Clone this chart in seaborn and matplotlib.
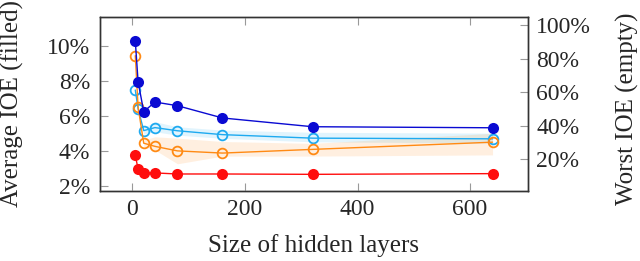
'''Average vs worst IOE over hidden layer size'''
import numpy as np
import pandas as pd
import seaborn as sns
import matplotlib.pyplot as plt
from matplotlib.ticker import FuncFormatter

sizes = [5, 10, 20, 40, 80, 160, 320, 640]

# average IOE (filled markers, left axis), in %
avg_blue = [10.27, 7.94, 6.23, 6.78, 6.57, 5.87, 5.37, 5.31]
avg_red = [3.74, 2.95, 2.74, 2.73, 2.67, 2.67, 2.65, 2.69]

# worst IOE (empty markers, right axis), in %
worst_cyan = [61.2, 50.0, 37.0, 38.8, 36.9, 34.6, 32.5, 32.1]
worst_orange = [81.7, 51.0, 29.5, 27.6, 24.9, 23.6, 25.8, 30.1]

# shaded spread around the worst IOE curves
band_sizes = [20, 40, 80, 160, 320, 640]
cyan_lo = [35.0, 36.3, 34.3, 32.4, 30.3, 29.6]
cyan_hi = [39.0, 42.3, 39.3, 37.3, 36.0, 35.5]
orange_lo = [27.5, 25.4, 17.2, 21.8, 21.8, 22.5]
orange_hi = [31.5, 33.3, 32.5, 30.5, 29.4, 35.4]

blue = '#0a0ad2'
red = '#ff0d0d'
cyan = '#1eaaf0'
orange = '#ff8a14'

sns.set_theme(style='white')
plt.rcParams['font.family'] = ['Liberation Serif', 'DejaVu Serif']

df = pd.DataFrame({'size': sizes, 'avg_blue': avg_blue, 'avg_red': avg_red,
                   'worst_cyan': worst_cyan, 'worst_orange': worst_orange})

fig = plt.figure(figsize=(6.4, 2.61), dpi=100)
ax1 = fig.add_axes([0.156, 0.269, 0.669, 0.666])
ax2 = ax1.twinx()

# bands go behind everything
ax2.fill_between(band_sizes, cyan_lo, cyan_hi, color=cyan, alpha=0.13, lw=0, zorder=0)
ax2.fill_between(band_sizes, orange_lo, orange_hi, color=orange, alpha=0.13, lw=0, zorder=0)

line_kw = dict(linewidth=1.0, markeredgewidth=1.3)
sns.lineplot(data=df, x='size', y='worst_cyan', ax=ax2, color=cyan, marker='o',
             markersize=7, markerfacecolor='none', markeredgecolor=cyan, **line_kw)
sns.lineplot(data=df, x='size', y='worst_orange', ax=ax2, color=orange, marker='o',
             markersize=7, markerfacecolor='none', markeredgecolor=orange, **line_kw)

sns.lineplot(data=df, x='size', y='avg_red', ax=ax1, color=red, marker='o',
             markersize=8, markeredgewidth=0, linewidth=1.0)
sns.lineplot(data=df, x='size', y='avg_blue', ax=ax1, color=blue, marker='o',
             markersize=8, markeredgewidth=0, linewidth=1.0)

# left axis above the twin so filled markers sit on top
ax1.set_zorder(ax2.get_zorder() + 1)
ax1.patch.set_visible(False)

ax1.set_xlim(-58, 703)
ax1.set_xticks([0, 200, 400, 600])
ax1.set_ylim(1.71, 11.64)
ax1.set_yticks([2, 4, 6, 8, 10])
ax2.set_ylim(1.1, 104.8)
ax2.set_yticks([20, 40, 60, 80, 100])

pct = FuncFormatter(lambda v, p: f'{v:.0f}%')
ax1.yaxis.set_major_formatter(pct)
ax2.yaxis.set_major_formatter(pct)

fs = 17
lfs = 18
ax1.set_xlabel('Size of hidden layers', fontsize=lfs, labelpad=10)
ax1.set_ylabel('Average IOE (filled)', fontsize=lfs, va='center')
ax2.set_ylabel('Worst IOE (empty)', fontsize=lfs, va='center')
ax1.yaxis.set_label_coords(-0.205, 0.5)
ax2.yaxis.set_label_coords(1.232, 0.47)

ax1.tick_params(axis='x', direction='in', length=6, width=0.8, color='#999999',
                top=True, bottom=True, labelsize=fs, pad=6)
ax1.tick_params(axis='y', direction='in', length=6, width=0.8, color='#999999',
                left=True, right=False, labelsize=fs, pad=7)
ax2.tick_params(axis='y', direction='in', length=6, width=0.8, color='#999999',
                right=True, left=False, labelsize=fs, pad=6)

for ax in (ax1, ax2):
    for s in ax.spines.values():
        s.set_color('#333333')
        s.set_linewidth(1.0)
    ax.grid(False)

fig.savefig('out.png', dpi=100)
